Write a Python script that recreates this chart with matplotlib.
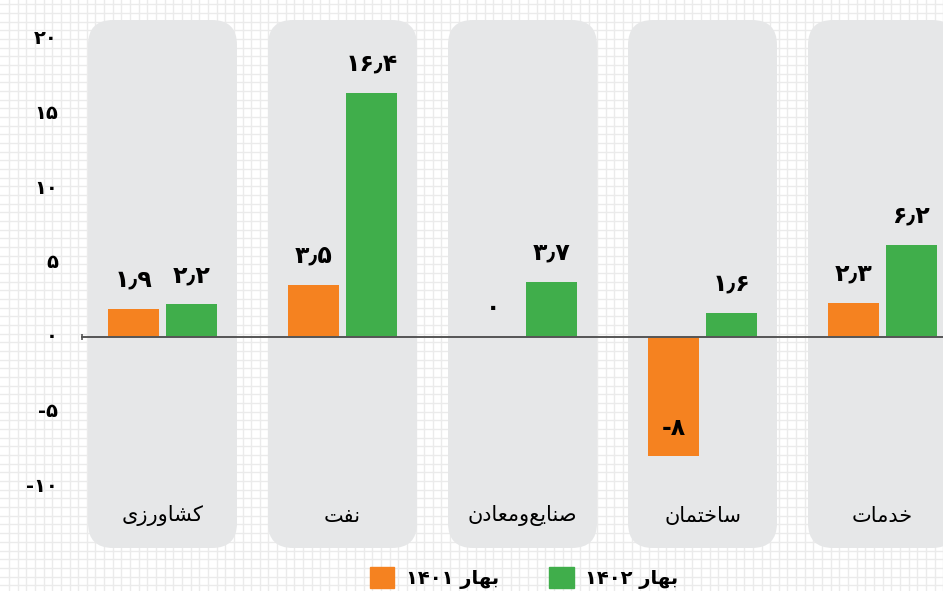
import numpy as np
import matplotlib
matplotlib.use("Agg")
import matplotlib.pyplot as plt
from matplotlib.patches import FancyBboxPatch, Patch

# data
categories = ["کشاورزی", "نفت", "صنایع\u200cومعادن", "ساختمان", "خدمات"]
values_1401 = [1.9, 3.5, 0, -8, 2.3]
values_1402 = [2.2, 16.4, 3.7, 1.6, 6.2]
series_names = ["بهار ۱۴۰۱", "بهار ۱۴۰۲"]
yticks = [20, 15, 10, 5, 0, -5, -10]

orange = "#F58220"
green = "#40AE4B"
panel_gray = "#E6E7E8"
grid_col = "#EBEBEB"

# minimal arabic/persian shaping (matplotlib has no complex text layout)
FORMS = {
    "ا": ("\uFE8D", "\uFE8E", None, None),
    "ب": ("\uFE8F", "\uFE90", "\uFE91", "\uFE92"),
    "ت": ("\uFE95", "\uFE96", "\uFE97", "\uFE98"),
    "خ": ("\uFEA5", "\uFEA6", "\uFEA7", "\uFEA8"),
    "د": ("\uFEA9", "\uFEAA", None, None),
    "ر": ("\uFEAD", "\uFEAE", None, None),
    "ز": ("\uFEAF", "\uFEB0", None, None),
    "س": ("\uFEB1", "\uFEB2", "\uFEB3", "\uFEB4"),
    "ش": ("\uFEB5", "\uFEB6", "\uFEB7", "\uFEB8"),
    "ص": ("\uFEB9", "\uFEBA", "\uFEBB", "\uFEBC"),
    "ع": ("\uFEC9", "\uFECA", "\uFECB", "\uFECC"),
    "ف": ("\uFED1", "\uFED2", "\uFED3", "\uFED4"),
    "م": ("\uFEE1", "\uFEE2", "\uFEE3", "\uFEE4"),
    "ن": ("\uFEE5", "\uFEE6", "\uFEE7", "\uFEE8"),
    "ه": ("\uFEE9", "\uFEEA", "\uFEEB", "\uFEEC"),
    "و": ("\uFEED", "\uFEEE", None, None),
    "ی": ("\uFBFC", "\uFBFD", "\uFBFE", "\uFBFF"),
    "ک": ("\uFB8E", "\uFB8F", "\uFB90", "\uFB91"),
}


def shape(word):
    out = []
    for i, c in enumerate(word):
        if c not in FORMS:
            out.append(c)
            continue
        prev = word[i - 1] if i > 0 else ""
        nxt = word[i + 1] if i + 1 < len(word) else ""
        join_prev = prev in FORMS and FORMS[prev][2] is not None
        join_next = nxt in FORMS and FORMS[c][2] is not None
        iso, fin, ini, med = FORMS[c]
        if join_prev and join_next:
            out.append(med)
        elif join_prev:
            out.append(fin)
        elif join_next:
            out.append(ini)
        else:
            out.append(iso)
    return "".join(out).replace("\u200c", "")[::-1]


def fa_num(v):
    s = ("%g" % v).replace(".", "\u066B")
    return s.translate(str.maketrans("0123456789", "۰۱۲۳۴۵۶۷۸۹"))


def legend_label(name):
    word, num = name.split(" ")
    return num + " " + shape(word)


W, H = 943, 591
fig = plt.figure(figsize=(W / 100, H / 100), dpi=100)

# background grid paper
bg = fig.add_axes([0, 0, 1, 1])
bg.set_xlim(0, W)
bg.set_ylim(H, 0)
for gx in np.arange(8, W, 8.65):
    bg.axvline(round(gx) + 0.5, color=grid_col, lw=1.0)
for gy in np.arange(3.3, H, 8.67):
    bg.axhline(round(gy) + 0.5, color=grid_col, lw=1.0)
bg.axis("off")

# main axes mapped so that 1 x-unit = 180px and 1 y-unit = 14.9px
ax = fig.add_axes([0, 0, 1, 1])
ax.patch.set_alpha(0)
px_x, px_y = 180.0, 14.9
x0_px, y0_px = 162.5, 337
ax.set_xlim(-x0_px / px_x, (W - x0_px) / px_x)
ax.set_ylim(-(H - y0_px) / px_y, y0_px / px_y)
ax.axis("off")

x = np.arange(len(categories))
panel_w = 149 / px_x
panel_top = (y0_px - 20) / px_y
panel_bot = (y0_px - 548) / px_y
for xi in x:
    ax.add_patch(FancyBboxPatch(
        (xi - panel_w / 2, panel_bot), panel_w, panel_top - panel_bot,
        boxstyle="round,pad=0,rounding_size=%f" % (25 / px_x),
        mutation_aspect=px_x / px_y, fc=panel_gray, ec="none", zorder=1))

bw = 51 / px_x
off = 29 / px_x
ax.bar(x - off, values_1401, bw, color=orange, zorder=2)
ax.bar(x + off, values_1402, bw, color=green, zorder=2)

# zero line
ax.plot([(82 - x0_px) / px_x, (W - x0_px) / px_x], [0, 0], color="#555555", lw=1.4, zorder=3)
ax.plot([(82 - x0_px) / px_x], [0], marker="|", ms=5, color="#555555", mew=1.2, zorder=3)

# value labels
for xs, vals in [(x - off, values_1401), (x + off, values_1402)]:
    for xv, v in zip(xs, vals):
        if v < 0:
            ax.text(xv, v + 1.9, fa_num(v), ha="center", va="center",
                    fontsize=17, fontweight="bold", zorder=4)
        else:
            ax.text(xv, v + 1.15, fa_num(v), ha="center", va="bottom",
                    fontsize=17, fontweight="bold", zorder=4)

# y tick labels
for t in yticks:
    ax.text((58 - x0_px) / px_x, t, fa_num(t), ha="right", va="center",
            fontsize=14, fontweight="bold")

# category labels
for xi, name in zip(x, categories):
    if "\u200c" in name:
        parts = name.split("\u200c")
        lbl = "".join(shape(p) for p in parts[::-1])
    else:
        lbl = shape(name)
    ax.text(xi, (y0_px - 516) / px_y, lbl, ha="center", va="center", fontsize=15)

handles = [Patch(color=orange), Patch(color=green)]
fig.legend(handles, [legend_label(n) for n in series_names], loc="center",
           bbox_to_anchor=(524 / W, 1 - 578 / H), ncol=2, frameon=False,
           prop={"size": 14, "weight": "bold"}, handlelength=1.25, handleheight=1.25,
           handletextpad=0.6, columnspacing=2.6, borderpad=0)

fig.savefig("out.png", dpi=100)
